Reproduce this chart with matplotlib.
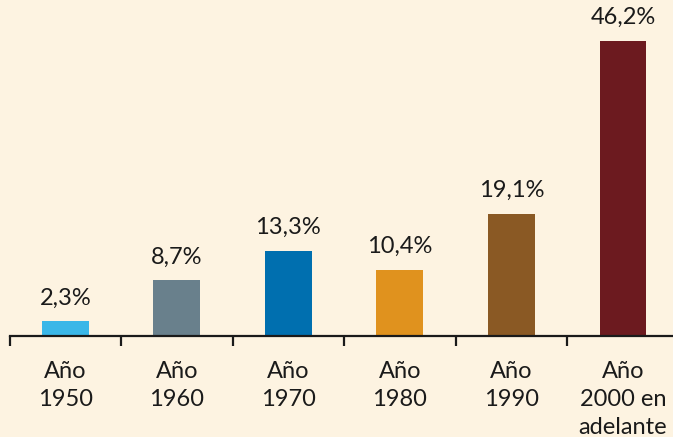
import matplotlib
matplotlib.use('Agg')
import matplotlib.pyplot as plt
import numpy as np

# Data
categories = ['Año\n1950', 'Año\n1960', 'Año\n1970', 'Año\n1980', 'Año\n1990', 'Año\n2000 en\nadelante']
values = [2.3, 8.7, 13.3, 10.4, 19.1, 46.2]
labels = ['2,3%', '8,7%', '13,3%', '10,4%', '19,1%', '46,2%']
colors = ['#3AB7E8', '#69808C', '#006FAF', '#E0921E', '#8A5924', '#6C1A1F']

bg = '#FDF3E1'
plt.rcParams['font.family'] = ['Lato', 'DejaVu Sans']

fig = plt.figure(figsize=(6.73, 4.37), dpi=100, facecolor=bg)
# axes placed so the baseline sits at y~336px
ax = fig.add_axes([9.5 / 673, 101 / 437, 663.5 / 673, 336 / 437])
ax.set_facecolor(bg)

x = np.arange(len(values))
ax.bar(x, values, width=0.42, color=colors)

for xi, v, lab in zip(x, values, labels):
    ax.text(xi, v + 2.0, lab, ha='center', va='bottom', fontsize=17, color='#1a1a1a')

ax.set_xlim(-0.5, 5.448)
ax.set_ylim(0, 52.6)

for s in ['top', 'right', 'left']:
    ax.spines[s].set_visible(False)
ax.spines['bottom'].set_linewidth(1.6)
ax.spines['bottom'].set_color('#1a1a1a')

ax.set_yticks([])
ax.set_xticks(x)
ax.set_xticklabels(categories, fontsize=17, color='#1a1a1a', linespacing=1.4)
ax.tick_params(axis='x', which='major', length=0, pad=18)
ax.set_xticks(np.append(-0.497, x[:-1] + 0.5), minor=True)
ax.tick_params(axis='x', which='minor', length=7, width=1.6, color='#1a1a1a', direction='out')

fig.savefig('out.png', dpi=100, facecolor=bg)
